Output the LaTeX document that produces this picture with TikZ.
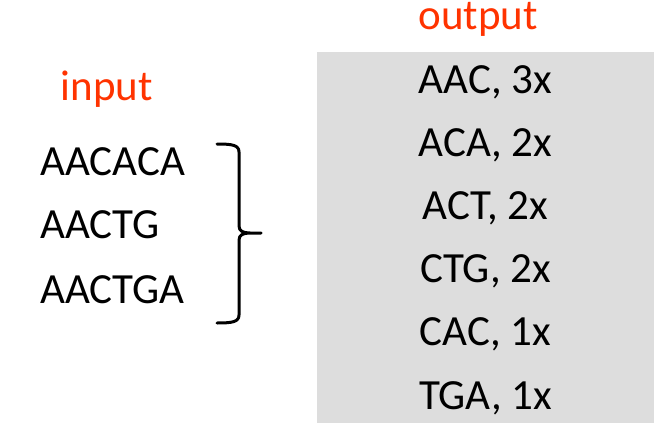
\documentclass[tikz,border=0pt]{standalone}
\usepackage{fontspec}
\setmainfont{Carlito}
\definecolor{lbl}{HTML}{FF3300}
\definecolor{boxgray}{HTML}{DDDDDD}
\begin{document}
\begin{tikzpicture}[x=1pt,y=-1pt,
  txt/.style={inner sep=0pt,font=\fontsize{43}{43}\selectfont},
  lab/.style={txt,text=lbl,text height=22pt}]
\useasboundingbox (0,0) rectangle (669,436);
\fill[boxgray] (317,52) rectangle (654,423);
\node[lab,anchor=base] (outl) at (478,30) {output};
\node[lab,anchor=base] (inl) at (107,100) {input};
\node[txt,anchor=base west] (i1) at (40,175) {AACACA};
\node[txt,anchor=base west] (i2) at (40,238) {AACTG};
\node[txt,anchor=base west] (i3) at (40,303) {AACTGA};
\foreach \t [count=\k from 0] in {{AAC, 3x},{ACA, 2x},{ACT, 2x},{CTG, 2x},{CAC, 1x},{TGA, 1x}}
  \node[txt,anchor=base] (o\k) at (485.5,93+63.2*\k) {\t};
\draw[line width=3pt,line cap=round,line join=round]
  (217,144) .. controls (232,144) and (239,145) .. (239,152)
  -- (239,226) .. controls (239,231) and (243,233) .. (250,233)
  -- (261,233)
  (250,233) .. controls (243,233) and (239,235) .. (239,240)
  -- (239,315) .. controls (239,322) and (232,323) .. (217,323);
\end{tikzpicture}
\end{document}
